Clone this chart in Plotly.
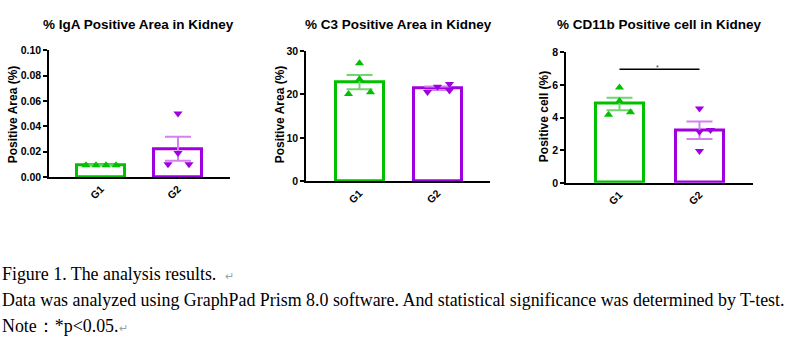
import numpy as np
import plotly.graph_objects as go

# ---------------- data ----------------
groups = ["G1", "G2"]

iga_g1 = [0.0093, 0.0093, 0.0093, 0.0093]
iga_g2 = [0.050, 0.019, 0.010, 0.010]

c3_g1 = [27.2, 23.5, 20.1, 20.5]
c3_g2 = [20.6, 21.8, 22.4, 20.9]

cd11b_g1 = [5.85, 5.02, 4.17, 4.33]
cd11b_g2 = [4.56, 3.14, 3.24, 1.96]

panel_titles = ["% IgA Positive Area in Kidney",
                "% C3 Positive Area in Kidney",
                "% CD11b Positive cell in Kidney"]
y_titles = ["Positive Area (%)", "Positive Area (%)", "Positive cell (%)"]
y_max = [0.10, 30, 8]
y_step = [0.02, 10, 2]
y_fmt = [".2f", "d", "d"]
sig_level = 6.97  # significance bar level in panel 3

caption_lines = [
    "Figure 1. The analysis results.  <span style='color:#a0a0a0;font-size:11px'>↵</span>",
    "Data was analyzed using GraphPad Prism 8.0 software. And statistical significance was determined by T-test.",
    "Note：*p&lt;0.05.<span style='color:#a0a0a0;font-size:11px'>↵</span>",
]

# ---------------- style / layout (pixels) ----------------
W, H = 791, 357
GREEN, GREEN_L = "rgb(0,192,0)", "rgb(112,214,112)"
PURPLE, PURPLE_L = "rgb(160,0,224)", "rgb(210,130,240)"

# each panel: axis left/right px, top/bottom px, G1 centre px, spacing px
geo = [
    dict(x0=49, x1=230, ytop=45.7, ybot=177.0, c1=101.0, sp=77.0),
    dict(x0=306, x1=490, ytop=46.7, ybot=181.3, c1=359.5, sp=78.0),
    dict(x0=566, x1=753, ytop=48.0, ybot=183.0, c1=619.5, sp=80.0),
]
jitter_px = [
    ([-15, -5, 5, 15], [0, 0, -10, 11]),
    ([0, 0, -11, 11], [-10, 0, 12, 12]),
    ([0, 0, -11, 11], [0, 0, 11, 0]),
]
title_pos = [(138, 19), (398.5, 19), (659.5, 19)]
ytitle_pos = [(13, 112), (280, 112), (544, 115)]

data = [(iga_g1, iga_g2), (c3_g1, c3_g2), (cd11b_g1, cd11b_g2)]

FONT = "Liberation Sans, Arial, sans-serif"

fig = go.Figure()
annotations = []
shapes = []

for i, ((g1, g2), g, jit) in enumerate(zip(data, geo, jitter_px)):
    ax = "" if i == 0 else str(i + 1)
    xref, yref = "x" + ax, "y" + ax
    means = [float(np.mean(g1)), float(np.mean(g2))]
    sems = [float(np.std(g1, ddof=1) / np.sqrt(len(g1))),
            float(np.std(g2, ddof=1) / np.sqrt(len(g2)))]
    bw = 48.0 / g["sp"]
    for k, (vals, col, lcol, sym) in enumerate([
            (g1, GREEN, GREEN_L, "triangle-up"),
            (g2, PURPLE, PURPLE_L, "triangle-down")]):
        fig.add_trace(go.Bar(
            x=[k], y=[means[k]], width=bw, xaxis=xref, yaxis=yref,
            marker=dict(color="white", line=dict(color=col, width=3)),
            error_y=dict(type="data", array=[sems[k]], visible=True,
                         color=lcol, thickness=2, width=13),
            showlegend=False, hoverinfo="skip"))
        offs = [k + o / g["sp"] for o in jit[k]]
        fig.add_trace(go.Scatter(
            x=offs, y=vals, mode="markers", xaxis=xref, yaxis=yref,
            marker=dict(symbol=sym, size=8, color=col, line=dict(width=0)),
            showlegend=False, hoverinfo="skip"))

    xr = [-(g["c1"] - g["x0"]) / g["sp"], (g["x1"] - g["c1"]) / g["sp"]]
    xdom = [g["x0"] / W, g["x1"] / W]
    ydom = [1 - g["ybot"] / H, 1 - g["ytop"] / H]
    tickvals = list(np.round(np.arange(0, y_max[i] + y_step[i] / 2, y_step[i]), 6))
    fig.update_layout(**{
        "xaxis" + ax: dict(domain=xdom, range=xr, anchor=yref,
                           tickvals=[0, 1], ticktext=groups, tickangle=-45,
                           showline=True, linecolor="black", linewidth=1.5,
                           ticks="", showgrid=False, zeroline=False,
                           tickfont=dict(family=FONT, size=10.5, color="black",
                                         weight="bold"),
                           fixedrange=True),
        "yaxis" + ax: dict(domain=ydom, range=[0, y_max[i]], anchor=xref,
                           tickvals=tickvals, tickformat=y_fmt[i],
                           showline=True, linecolor="black", linewidth=1.5,
                           ticks="outside", ticklen=4, tickwidth=1.5,
                           tickcolor="black", showgrid=False, zeroline=False,
                           tickfont=dict(family=FONT, size=10.5, color="black",
                                         weight="bold"),
                           fixedrange=True),
    })
    tx, ty = title_pos[i]
    annotations.append(dict(
        text=panel_titles[i], x=tx / W, y=1 - ty / H, xref="paper", yref="paper",
        xanchor="center", yanchor="middle", showarrow=False,
        font=dict(family=FONT, size=13.5, color="black", weight="bold")))
    yx, yy = ytitle_pos[i]
    annotations.append(dict(
        text=y_titles[i], x=yx / W, y=1 - yy / H, xref="paper", yref="paper",
        xanchor="center", yanchor="middle", showarrow=False, textangle=-90,
        font=dict(family=FONT, size=12, color="black", weight="bold")))

# significance bar (panel 3)
shapes.append(dict(type="line", xref="x3", yref="y3", x0=0, x1=1,
                   y0=sig_level, y1=sig_level,
                   line=dict(color="black", width=1.5)))
annotations.append(dict(text="*", x=0.48, y=sig_level, xref="x3", yref="y3",
                        showarrow=False, xanchor="center", yanchor="bottom",
                        yshift=-4, font=dict(family=FONT, size=7, color="#333")))

# caption text
cap_y = [277, 304, 331]
for line, cy in zip(caption_lines, cap_y):
    annotations.append(dict(
        text=line, x=0, y=1 - cy / H, xref="paper", yref="paper",
        xanchor="left", yanchor="middle", showarrow=False,
        font=dict(family="Liberation Serif, Times New Roman, serif",
                  size=17.9, color="black")))

fig.update_layout(
    width=W, height=H, margin=dict(l=0, r=0, t=0, b=0),
    paper_bgcolor="white", plot_bgcolor="white",
    annotations=annotations, shapes=shapes, bargap=0,
)

fig.write_html(
    "out.html", config={"displayModeBar": False},
    post_script="document.body.style.margin='0';document.body.style.padding='0';"
                "document.body.style.overflow='hidden';")
